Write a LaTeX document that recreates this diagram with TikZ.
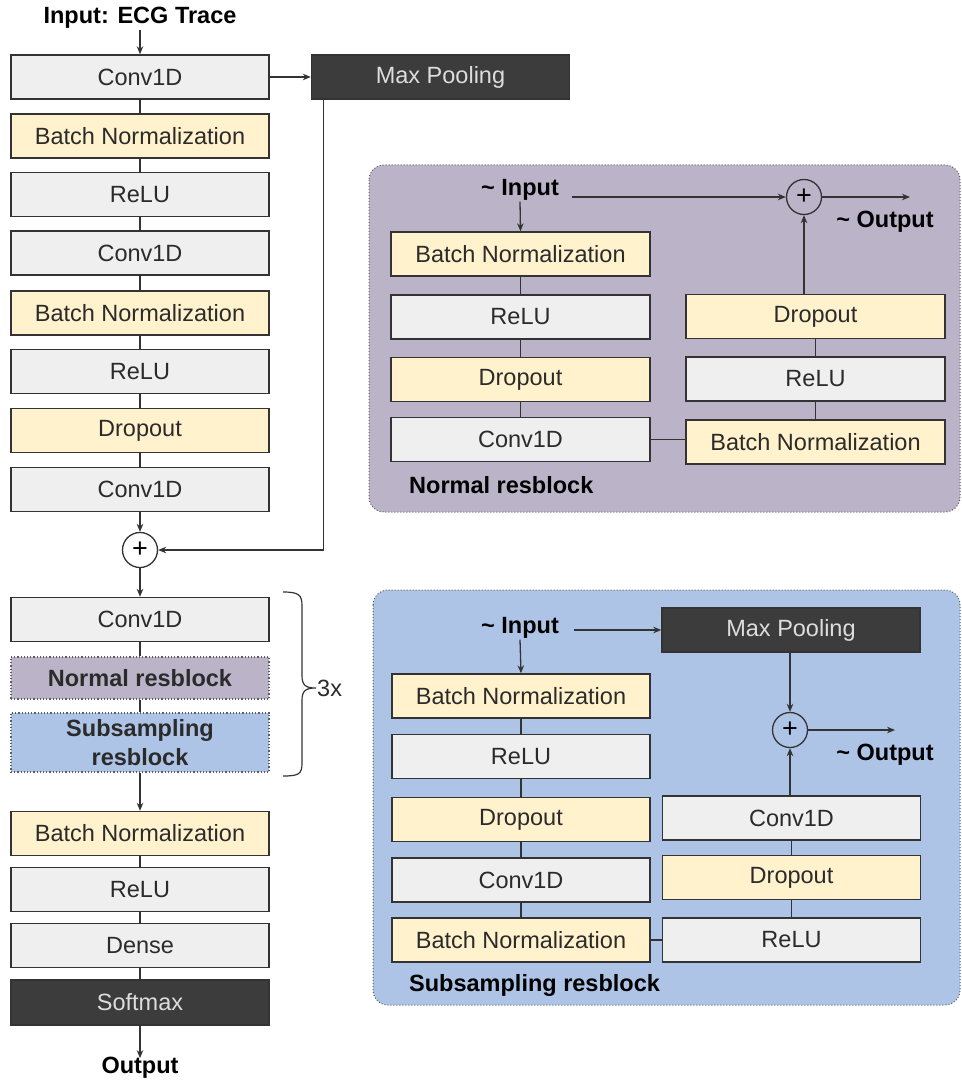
\documentclass[tikz,border=0pt]{standalone}
\usepackage{fontspec}
\setmainfont{Liberation Sans}
\usetikzlibrary{arrows.meta}
\definecolor{boxgray}{HTML}{EFEFEF}
\definecolor{boxyellow}{HTML}{FFF2CC}
\definecolor{boxdark}{HTML}{3C3C3C}
\definecolor{panelpurple}{HTML}{BBB3C7}
\definecolor{panelblue}{HTML}{AEC4E6}
\definecolor{linecol}{HTML}{333333}
\definecolor{txtcol}{HTML}{2B2B2B}
\definecolor{txtlight}{HTML}{DDDDDD}
\begin{document}
\begin{tikzpicture}[x=1pt,y=-1pt,
  font=\fontsize{23.5}{28}\selectfont,
  blk/.style={draw=linecol, line width=1.4pt, minimum width=258pt, minimum height=44pt, inner sep=0pt, text=txtcol},
  lgbox/.style={blk, fill=boxgray},
  ylbox/.style={blk, fill=boxyellow},
  dkbox/.style={blk, fill=boxdark, text=txtlight},
  conn/.style={draw=linecol, line width=1.3pt},
  arr/.style={conn, -{Stealth[length=8pt,width=6.5pt]}},
  lbl/.style={font=\fontsize{23.5}{28}\selectfont\bfseries, text=black, inner sep=1pt},
  plus/.style={circle, draw=linecol, line width=1.3pt, minimum size=35pt, inner sep=0pt, font=\fontsize{27}{27}\selectfont},
  panel/.style={draw=linecol!80, line width=1pt, dotted, rounded corners=15pt},
  resbox/.style={draw=linecol!80, line width=1.2pt, dotted, minimum width=258pt, inner sep=0pt, font=\fontsize{23.5}{28}\selectfont\bfseries, text=txtcol, align=center}
]
\useasboundingbox (0,0) rectangle (961,1083);

% ---------- main column ----------
\node[lbl] (inp) at (140,18) {Input: ECG Trace};
\node[lgbox] (c1) at (140,77) {Conv1D};
\node[dkbox] (mp) at (440.5,77) {Max Pooling};
\node[ylbox] (b1) at (140,136) {Batch Normalization};
\node[lgbox] (r1) at (140,194.5) {ReLU};
\node[lgbox] (c2) at (140,253) {Conv1D};
\node[ylbox] (b2) at (140,313) {Batch Normalization};
\node[lgbox] (r2) at (140,371.5) {ReLU};
\node[ylbox] (d1) at (140,430.5) {Dropout};
\node[lgbox] (c3) at (140,489.5) {Conv1D};
\node[plus] (p0) at (140,550) {+};
\node[lgbox] (c4) at (140,619.5) {Conv1D};
\node[resbox, fill=panelpurple, minimum height=42pt] (nr) at (140,678) {Normal resblock};
\node[resbox, fill=panelblue, minimum height=59pt, font=\fontsize{23.5}{29}\selectfont\bfseries] (sr) at (140,742.5) {Subsampling\\resblock};
\node[ylbox] (b3) at (140,833.5) {Batch Normalization};
\node[lgbox] (r3) at (140,889.5) {ReLU};
\node[lgbox] (de) at (140,945.5) {Dense};
\node[dkbox, minimum height=45pt] (sm) at (140,1002.5) {Softmax};
\node[lbl] (out) at (140,1068) {Output};

\draw[arr] (inp.south) -- (c1.north);
\draw[arr] (c1.east) -- (mp.west);
\draw[conn] (c1) -- (b1) (b1) -- (r1) (r1) -- (c2) (c2) -- (b2) (b2) -- (r2) (r2) -- (d1) (d1) -- (c3);
\draw[arr] (c3.south) -- (p0.north);
\draw[arr] ([xshift=13pt]mp.south west) |- (p0.east);
\draw[arr] (p0.south) -- (c4.north);
\draw[conn] (c4) -- (nr) (nr) -- (sr);
\draw[arr] (sr.south) -- (b3.north);
\draw[conn] (b3) -- (r3) (r3) -- (de) (de) -- (sm);
\draw[arr] (sm.south) -- ([yshift=-2pt]out.north);

% brace
\draw[conn, line width=1.2pt] (283,592) .. controls (299,592) and (302,595) .. (302,606) -- (302,675)
  .. controls (302,685) and (305,688) .. (316,688)
  .. controls (305,688) and (302,691) .. (302,701) -- (302,763)
  .. controls (302,774) and (299,776) .. (283,776);
\node[text=txtcol, anchor=west, inner sep=0pt] (three) at (317,688) {3x};

% ---------- Normal resblock panel ----------
\fill[panelpurple, rounded corners=15pt] (369,165) rectangle (960,512);
\draw[panel] (369,165) rectangle (960,512);
\node[lbl] (inA) at (520,190) {\textasciitilde\ Input};
\node[plus] (pA) at (804,197) {+};
\coordinate (oA) at (910,197);
\node[lbl] (outA) at (885,222) {\textasciitilde\ Output};
\node[ylbox, minimum width=259pt] (bnA) at (520.5,254) {Batch Normalization};
\node[lgbox, minimum width=259pt] (reA) at (520.5,317) {ReLU};
\node[ylbox, minimum width=259pt] (drA) at (520.5,379.5) {Dropout};
\node[lgbox, minimum width=259pt] (cvA) at (520.5,439.5) {Conv1D};
\node[ylbox, minimum width=259pt] (drB) at (815.5,316.5) {Dropout};
\node[lgbox, minimum width=259pt] (reB) at (815.5,379) {ReLU};
\node[ylbox, minimum width=259pt] (bnB) at (815.5,442) {Batch Normalization};
\node[lbl, anchor=west] (nameA) at (408,485) {Normal resblock};
\draw[arr] ([xshift=12pt]inA.east |- pA.west) -- (pA.west);
\draw[arr] (pA.east) -- (oA);
\draw[arr] (inA.south) -- (bnA.north);
\draw[conn] (bnA) -- (reA) (reA) -- (drA) (drA) -- (cvA);
\draw[conn] (cvA.east) -- (cvA.east -| bnB.west);
\draw[conn] (bnB) -- (reB) (reB) -- (drB);
\draw[arr] (drB.north -| pA.south) -- (pA.south);

% ---------- Subsampling resblock panel ----------
\fill[panelblue, rounded corners=15pt] (373,590) rectangle (960,1005);
\draw[panel] (373,590) rectangle (960,1005);
\node[lbl] (inC) at (520,628) {\textasciitilde\ Input};
\node[dkbox] (mpC) at (791,630) {Max Pooling};
\node[plus] (pC) at (790,730) {+};
\coordinate (oC) at (895,730);
\node[lbl] (outC) at (885,755) {\textasciitilde\ Output};
\node[ylbox] (bnC) at (521,696) {Batch Normalization};
\node[lgbox] (reC) at (521,756.5) {ReLU};
\node[ylbox] (drC) at (521,819.5) {Dropout};
\node[lgbox] (cvC) at (521,880) {Conv1D};
\node[ylbox] (bnD) at (521,940) {Batch Normalization};
\node[lgbox] (cvD) at (791.5,818) {Conv1D};
\node[ylbox] (drD) at (791.5,877.5) {Dropout};
\node[lgbox] (reD) at (791.5,940) {ReLU};
\node[lbl, anchor=west] (nameC) at (408,985) {Subsampling resblock};
\draw[arr] ([xshift=14pt]inC.east |- mpC.west) -- (mpC.west);
\draw[arr] (inC.south) -- (bnC.north);
\draw[arr] (mpC.south -| pC.north) -- (pC.north);
\draw[arr] (cvD.north -| pC.south) -- (pC.south);
\draw[arr] (pC.east) -- (oC);
\draw[conn] (bnC) -- (reC) (reC) -- (drC) (drC) -- (cvC) (cvC) -- (bnD);
\draw[conn] (bnD.east) -- (reD.west);
\draw[conn] (reD) -- (drD) (drD) -- (cvD);
\end{tikzpicture}
\end{document}
